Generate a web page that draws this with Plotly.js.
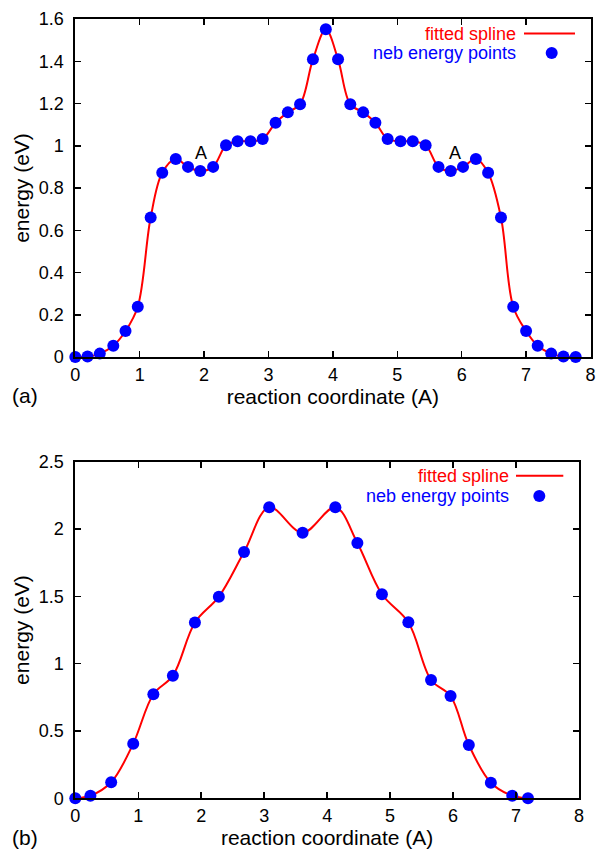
<!DOCTYPE html>
<html><head><meta charset="utf-8">
<script src="https://cdn.plot.ly/plotly-3.0.1.min.js"></script>
<style>html,body{margin:0;padding:0;background:#fff;} #chart{width:596px;height:849px;}</style>
</head><body><div id="chart"></div>
<script>
// Panel (a)
const coordA = [0,0.19,0.38,0.59,0.78,0.97,1.17,1.35,1.56,1.75,1.94,2.14,2.34,2.52,2.72,2.91,3.11,3.30,3.49,3.69,3.89,4.08,4.27,4.47,4.66,4.85,5.05,5.24,5.44,5.64,5.83,6.02,6.22,6.41,6.61,6.80,7.00,7.18,7.39,7.58,7.77];
const energyA = [0,0.002,0.016,0.053,0.123,0.238,0.66,0.872,0.937,0.90,0.88,0.90,1.002,1.021,1.021,1.032,1.109,1.158,1.196,1.409,1.551,1.409,1.196,1.158,1.109,1.032,1.021,1.021,1.002,0.90,0.88,0.90,0.937,0.872,0.66,0.238,0.123,0.053,0.016,0.002,0];
const markA_x = [1.95, 5.90];
const markA_y = [0.965, 0.965];
const markA_text = ['A', 'A'];
// Panel (b)
const coordB = [0,0.24,0.57,0.92,1.24,1.55,1.90,2.28,2.68,3.08,3.61,4.13,4.48,4.87,5.29,5.65,5.96,6.25,6.60,6.94,7.19];
const energyB = [0,0.019,0.119,0.406,0.773,0.911,1.306,1.498,1.83,2.162,1.973,2.162,1.897,1.516,1.308,0.879,0.760,0.396,0.116,0.019,0];
const xTicks = [0,1,2,3,4,5,6,7,8];
const yTicksA = [0,0.2,0.4,0.6,0.8,1,1.2,1.4,1.6];
const yTicksB = [0,0.5,1,1.5,2,2.5];
const legendNames = ['fitted spline', 'neb energy points'];

const RED = '#ff0000', BLUE = '#0000ff';
const FONT = 'Liberation Sans, Arial, Helvetica, sans-serif';
const W = 596, H = 849;
const px = v => v / W, py = v => 1 - v / H;

function lineTrace(x, y, xa, ya) {
  return {x, y, xaxis: xa, yaxis: ya, type: 'scatter', mode: 'lines',
    line: {color: RED, width: 2, shape: 'spline', smoothing: 1},
    cliponaxis: false, showlegend: false, hoverinfo: 'skip'};
}
function ptsTrace(x, y, xa, ya) {
  return {x, y, xaxis: xa, yaxis: ya, type: 'scatter', mode: 'markers',
    marker: {color: BLUE, size: 12}, cliponaxis: false, showlegend: false};
}
const traces = [
  lineTrace(coordA, energyA, 'x', 'y'), ptsTrace(coordA, energyA, 'x', 'y'),
  lineTrace(coordB, energyB, 'x2', 'y2'), ptsTrace(coordB, energyB, 'x2', 'y2')
];

const axBase = {showline: true, linecolor: '#000', linewidth: 2, mirror: 'ticks',
  ticks: 'inside', ticklen: 6, tickwidth: 1.5, tickcolor: '#000',
  showgrid: false, zeroline: false, automargin: false,
  tickfont: {family: FONT, size: 18, color: '#000'}};
function xAx(domain, anchor) {
  return Object.assign({}, axBase, {domain, anchor, range: [0, 8], tickmode: 'array', tickvals: xTicks,
    ticklabelstandoff: 0,
    title: {text: 'reaction coordinate (A)', font: {family: FONT, size: 21, color: '#000'}, standoff: 2}});
}
function yAx(domain, anchor, range, tv) {
  return Object.assign({}, axBase, {domain, anchor, range, tickmode: 'array', tickvals: tv,
    ticklabelstandoff: 6,
    title: {text: 'energy (eV)', font: {family: FONT, size: 21, color: '#000'}, standoff: 3}});
}

const annotations = [];
markA_x.forEach((x, i) => annotations.push({x, y: markA_y[i], xref: 'x', yref: 'y', text: markA_text[i],
  showarrow: false, xanchor: 'center', yanchor: 'middle', font: {family: FONT, size: 18, color: '#000'}}));
const shapes = [];
function legendBlock(rightX, y1, y2, lineX0, lineX1, dotX) {
  annotations.push({x: px(rightX), y: py(y1), xref: 'paper', yref: 'paper', xanchor: 'right', yanchor: 'middle',
    text: legendNames[0], showarrow: false, font: {family: FONT, size: 18, color: RED}});
  annotations.push({x: px(rightX), y: py(y2), xref: 'paper', yref: 'paper', xanchor: 'right', yanchor: 'middle',
    text: legendNames[1], showarrow: false, font: {family: FONT, size: 18, color: BLUE}});
  shapes.push({type: 'line', xref: 'paper', yref: 'paper', x0: px(lineX0), x1: px(lineX1), y0: py(y1), y1: py(y1),
    line: {color: RED, width: 2}});
  shapes.push({type: 'circle', xref: 'paper', yref: 'paper', x0: px(dotX - 6), x1: px(dotX + 6),
    y0: py(y2 + 6), y1: py(y2 - 6), fillcolor: BLUE, line: {color: BLUE, width: 0}});
}
legendBlock(518, 33.5, 53, 524, 575, 551.7);
legendBlock(510.5, 475.7, 496, 516, 563.3, 539.3);
annotations.push({x: px(25), y: py(395), xref: 'paper', yref: 'paper', text: '(a)', showarrow: false,
  xanchor: 'center', yanchor: 'middle', font: {family: FONT, size: 21, color: '#000'}});
annotations.push({x: px(25), y: py(837), xref: 'paper', yref: 'paper', text: '(b)', showarrow: false,
  xanchor: 'center', yanchor: 'middle', font: {family: FONT, size: 21, color: '#000'}});

const layout = {
  width: W, height: H, margin: {l: 0, r: 0, t: 0, b: 0},
  paper_bgcolor: '#fff', plot_bgcolor: '#fff', showlegend: false,
  font: {family: FONT, size: 18, color: '#000'},
  xaxis: xAx([px(75.3), px(590.5)], 'y'),
  yaxis: yAx([py(357), py(19)], 'x', [0, 1.6], yTicksA),
  xaxis2: xAx([px(75.3), px(579)], 'y2'),
  yaxis2: yAx([py(798.3), py(461.8)], 'x2', [0, 2.5], yTicksB),
  annotations, shapes
};
Plotly.newPlot('chart', traces, layout, {displayModeBar: false, staticPlot: true});
</script></body></html>
